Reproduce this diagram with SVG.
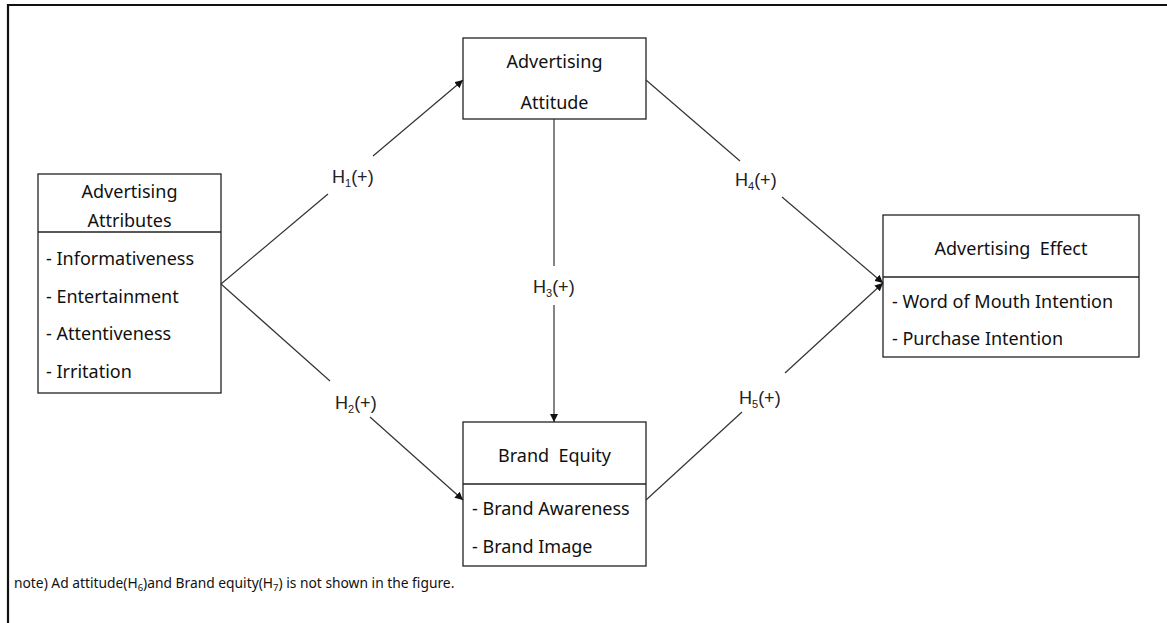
<svg xmlns="http://www.w3.org/2000/svg" width="1167" height="623" viewBox="0 0 1167 623">
<style>
.box{fill:#fff;stroke:#222;stroke-width:1.3}
.div{stroke:#222;stroke-width:1.5}
.t{font-family:"Noto Sans","Open Sans",sans-serif;font-size:18px;fill:#111}
.c{text-anchor:middle}
.lbl{font-family:"Liberation Sans",Arial,sans-serif;font-size:18px;fill:#222}
.sub{font-size:11px}
.ln{stroke:#333;stroke-width:1.2;fill:none}
.note{font-family:"Noto Sans","Open Sans",sans-serif;font-size:13.8px;fill:#111}
</style>
<defs>
<marker id="ah" viewBox="0 0 10 10" refX="10" refY="5" markerWidth="8" markerHeight="8" orient="auto" markerUnits="userSpaceOnUse">
<path d="M0,0 L10,5 L0,10 z" fill="#111"/>
</marker>
</defs>
<rect width="1167" height="623" fill="#fff"/>
<path d="M8,623 V5 H1167" fill="none" stroke="#111" stroke-width="2.2"/>

<g id="attributes">
<rect class="box" x="38" y="174" width="183" height="219"/>
<line class="div" x1="38" y1="232" x2="221" y2="232"/>
<text class="t c" x="129.5" y="198">Advertising</text>
<text class="t c" x="129.5" y="227">Attributes</text>
<text class="t" x="46" y="265">- Informativeness</text>
<text class="t" x="46" y="303">- Entertainment</text>
<text class="t" x="46" y="340">- Attentiveness</text>
<text class="t" x="46" y="378">- Irritation</text>
</g>

<g id="attitude">
<rect class="box" x="463" y="38" width="183" height="81"/>
<text class="t c" x="554.5" y="68">Advertising</text>
<text class="t c" x="554.5" y="109">Attitude</text>
</g>

<g id="equity">
<rect class="box" x="463" y="422" width="183" height="144"/>
<line class="div" x1="463" y1="484" x2="646" y2="484"/>
<text class="t c" x="554.5" y="462" xml:space="preserve">Brand  Equity</text>
<text class="t" x="472" y="515">- Brand Awareness</text>
<text class="t" x="472" y="553">- Brand Image</text>
</g>

<g id="effect">
<rect class="box" x="883" y="215" width="256" height="142"/>
<line class="div" x1="883" y1="277" x2="1139" y2="277"/>
<text class="t c" x="1011" y="255" xml:space="preserve">Advertising  Effect</text>
<text class="t" x="892" y="308">- Word of Mouth Intention</text>
<text class="t" x="892" y="345">- Purchase Intention</text>
</g>

<g id="connectors">
<line class="ln" x1="221" y1="284" x2="328" y2="194"/>
<line class="ln" x1="373" y1="156" x2="463" y2="80" marker-end="url(#ah)"/>
<line class="ln" x1="221" y1="284" x2="330" y2="381"/>
<line class="ln" x1="370" y1="417" x2="463" y2="500" marker-end="url(#ah)"/>
<line class="ln" x1="554" y1="119" x2="554" y2="266"/>
<line class="ln" x1="554" y1="305" x2="554" y2="422" marker-end="url(#ah)"/>
<line class="ln" x1="646" y1="80" x2="740" y2="161"/>
<line class="ln" x1="782" y1="197" x2="883" y2="283" marker-end="url(#ah)"/>
<line class="ln" x1="646" y1="500" x2="742" y2="412"/>
<line class="ln" x1="785" y1="373" x2="883" y2="283" marker-end="url(#ah)"/>
</g>

<g id="labels">
<text class="lbl" x="332" y="183">H<tspan class="sub" dy="4">1</tspan><tspan dy="-4">(+)</tspan></text>
<text class="lbl" x="335" y="409">H<tspan class="sub" dy="4">2</tspan><tspan dy="-4">(+)</tspan></text>
<text class="lbl" x="533" y="293">H<tspan class="sub" dy="4">3</tspan><tspan dy="-4">(+)</tspan></text>
<text class="lbl" x="735" y="186">H<tspan class="sub" dy="4">4</tspan><tspan dy="-4">(+)</tspan></text>
<text class="lbl" x="739" y="404">H<tspan class="sub" dy="4">5</tspan><tspan dy="-4">(+)</tspan></text>
</g>

<text class="note" x="14" y="588">note) Ad attitude(H<tspan font-size="9.5" dy="3">6</tspan><tspan dy="-3">)and Brand equity(H</tspan><tspan font-size="9.5" dy="3">7</tspan><tspan dy="-3">) is not shown in the figure.</tspan></text>
</svg>
